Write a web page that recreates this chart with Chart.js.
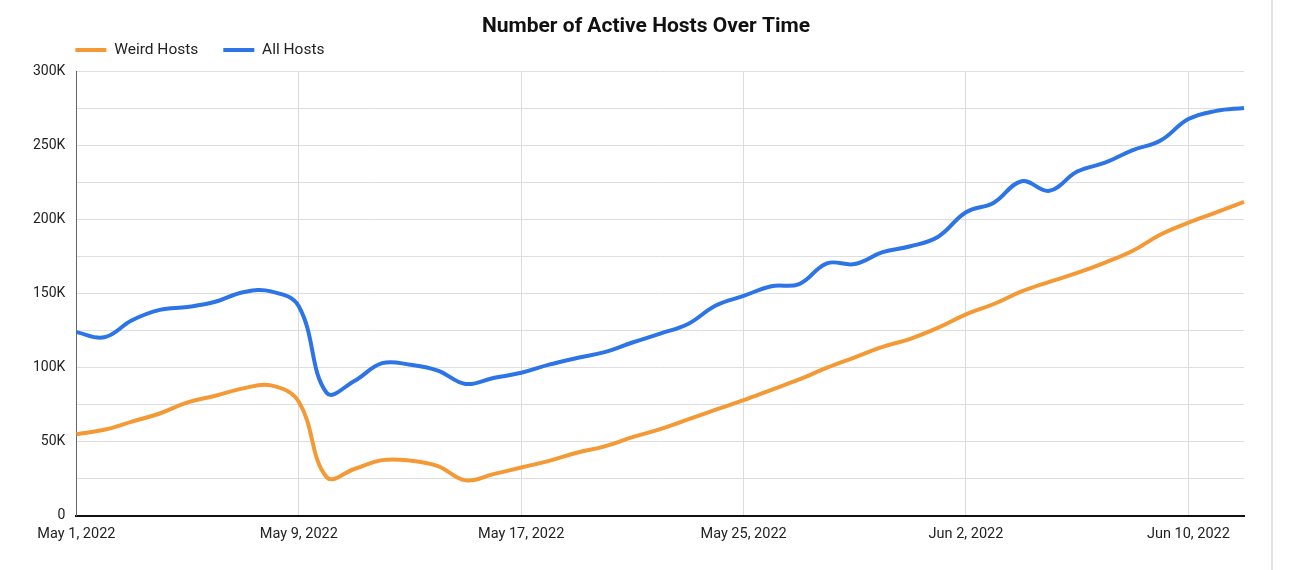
<!DOCTYPE html>
<html>
<head>
<meta charset="utf-8">
<script src="https://cdn.jsdelivr.net/npm/chart.js@4.4.0/dist/chart.umd.min.js"></script>
<style>
  html, body { margin: 0; padding: 0; background: #fff; }
  #wrap { position: relative; width: 1271px; height: 570px; border-right: 2px solid #e2e2e2; }
</style>
</head>
<body>
<div id="wrap"><canvas id="chart"></canvas></div>
<script>
// daily dates, May 1 2022 .. Jun 12 2022
const days = [
  'May 1, 2022', 'May 2, 2022', 'May 3, 2022', 'May 4, 2022', 'May 5, 2022', 'May 6, 2022',
  'May 7, 2022', 'May 8, 2022', 'May 9, 2022', 'May 10, 2022', 'May 11, 2022', 'May 12, 2022',
  'May 13, 2022', 'May 14, 2022', 'May 15, 2022', 'May 16, 2022', 'May 17, 2022', 'May 18, 2022',
  'May 19, 2022', 'May 20, 2022', 'May 21, 2022', 'May 22, 2022', 'May 23, 2022', 'May 24, 2022',
  'May 25, 2022', 'May 26, 2022', 'May 27, 2022', 'May 28, 2022', 'May 29, 2022', 'May 30, 2022',
  'May 31, 2022', 'Jun 1, 2022', 'Jun 2, 2022', 'Jun 3, 2022', 'Jun 4, 2022', 'Jun 5, 2022',
  'Jun 6, 2022', 'Jun 7, 2022', 'Jun 8, 2022', 'Jun 9, 2022', 'Jun 10, 2022', 'Jun 11, 2022',
  'Jun 12, 2022'
];

const weirdHosts = [
  55000, 58000, 63500, 69000, 76500, 81000, 86000, 88000, 77000, 26000,
  31500, 37500, 37200, 33500, 23800, 28000, 32500, 37000, 42500, 46800,
  53000, 58500, 65000, 71600, 78000, 85000, 92000, 100000, 107000, 114000,
  119500, 127000, 136000, 143000, 151500, 158000, 164000, 171000, 179000, 190000,
  198000, 205000, 212000
];

const allHosts = [
  124000, 120500, 132000, 139000, 141000, 144500, 151000, 151500, 141500, 83000,
  91000, 103000, 102000, 98000, 89000, 93000, 96500, 102000, 106500, 110500,
  117000, 123000, 129500, 142000, 148500, 155000, 156500, 170500, 170000, 178000,
  182000, 188500, 205000, 211500, 226000, 219500, 232500, 238500, 247000, 253500,
  268000, 273500, 275500
];

const tickEvery = 8;
const yTicks = [0, 50000, 100000, 150000, 200000, 250000, 300000];

const orange = '#f39a36';
const blue = '#2d74e7';

Chart.defaults.font.family = 'Roboto, "Noto Sans", sans-serif';
Chart.defaults.color = '#222';

// line the legend up with the plot's left edge, nudge title/legend a bit
const legendShift = {
  id: 'legendShift',
  afterLayout(chart) {
    const lg = chart.legend;
    const pad = lg.options.labels.padding;
    const dx = chart.chartArea.left - 1 - pad - lg.left;
    lg.left += dx;
    lg.top -= 4;
    lg.legendHitBoxes.forEach(b => { b.left += dx; b.top -= 4; });
    const tb = chart.titleBlock;
    tb.left += 13;
    tb.right += 13;
  }
};

let ctx = document.getElementById('chart').getContext('2d');

window.line = new Chart(ctx, {
  type: 'line',
  data: {
    labels: days,
    datasets: [{
      label: 'Weird Hosts',
      data: weirdHosts,
      borderColor: orange,
      backgroundColor: orange,
      borderWidth: 4,
      pointRadius: 0,
      tension: 0.4
    }, {
      label: 'All Hosts',
      data: allHosts,
      borderColor: blue,
      backgroundColor: blue,
      borderWidth: 4,
      pointRadius: 0,
      tension: 0.4
    }]
  },
  options: {
    responsive: true,
    maintainAspectRatio: false,
    animation: false,
    layout: { padding: { left: 22, right: 27, top: 0, bottom: 17 } },
    plugins: {
      title: {
        display: true,
        text: 'Number of Active Hosts Over Time',
        color: '#111',
        font: { size: 21, weight: 'bold' },
        padding: { top: 14, bottom: -18 }
      },
      legend: {
        position: 'top',
        align: 'start',
        labels: {
          boxWidth: 31,
          boxHeight: 4,
          padding: 25,
          color: '#222',
          font: { size: 15.5 },
          generateLabels(chart) {
            const items = Chart.defaults.plugins.legend.labels.generateLabels(chart);
            items.forEach(it => { it.lineWidth = 0; });
            return items;
          }
        }
      },
      tooltip: { enabled: false }
    },
    scales: {
      x: {
        type: 'category',
        offset: false,
        border: { display: true, color: '#111', width: 2 },
        grid: {
          drawTicks: false,
          color: c => (c.index % tickEvery === 0 && c.index > 0) ? '#dcdcdc' : 'transparent',
          lineWidth: 1
        },
        ticks: {
          autoSkip: false,
          maxRotation: 0,
          padding: 10,
          font: { size: 14.5 },
          color: '#222',
          callback: function (v, i) { return i % tickEvery === 0 ? days[i] : ''; }
        }
      },
      y: {
        min: 0,
        max: 300000,
        border: { display: true, color: '#666', width: 1 },
        grid: { drawTicks: false, color: '#dedede', lineWidth: 1 },
        ticks: {
          stepSize: 25000,
          padding: 11,
          font: { size: 14 },
          color: '#222',
          callback: v => yTicks.includes(v) ? (v === 0 ? '0' : (v / 1000) + 'K') : ''
        }
      }
    }
  },
  plugins: [legendShift]
});
</script>
</body>
</html>
